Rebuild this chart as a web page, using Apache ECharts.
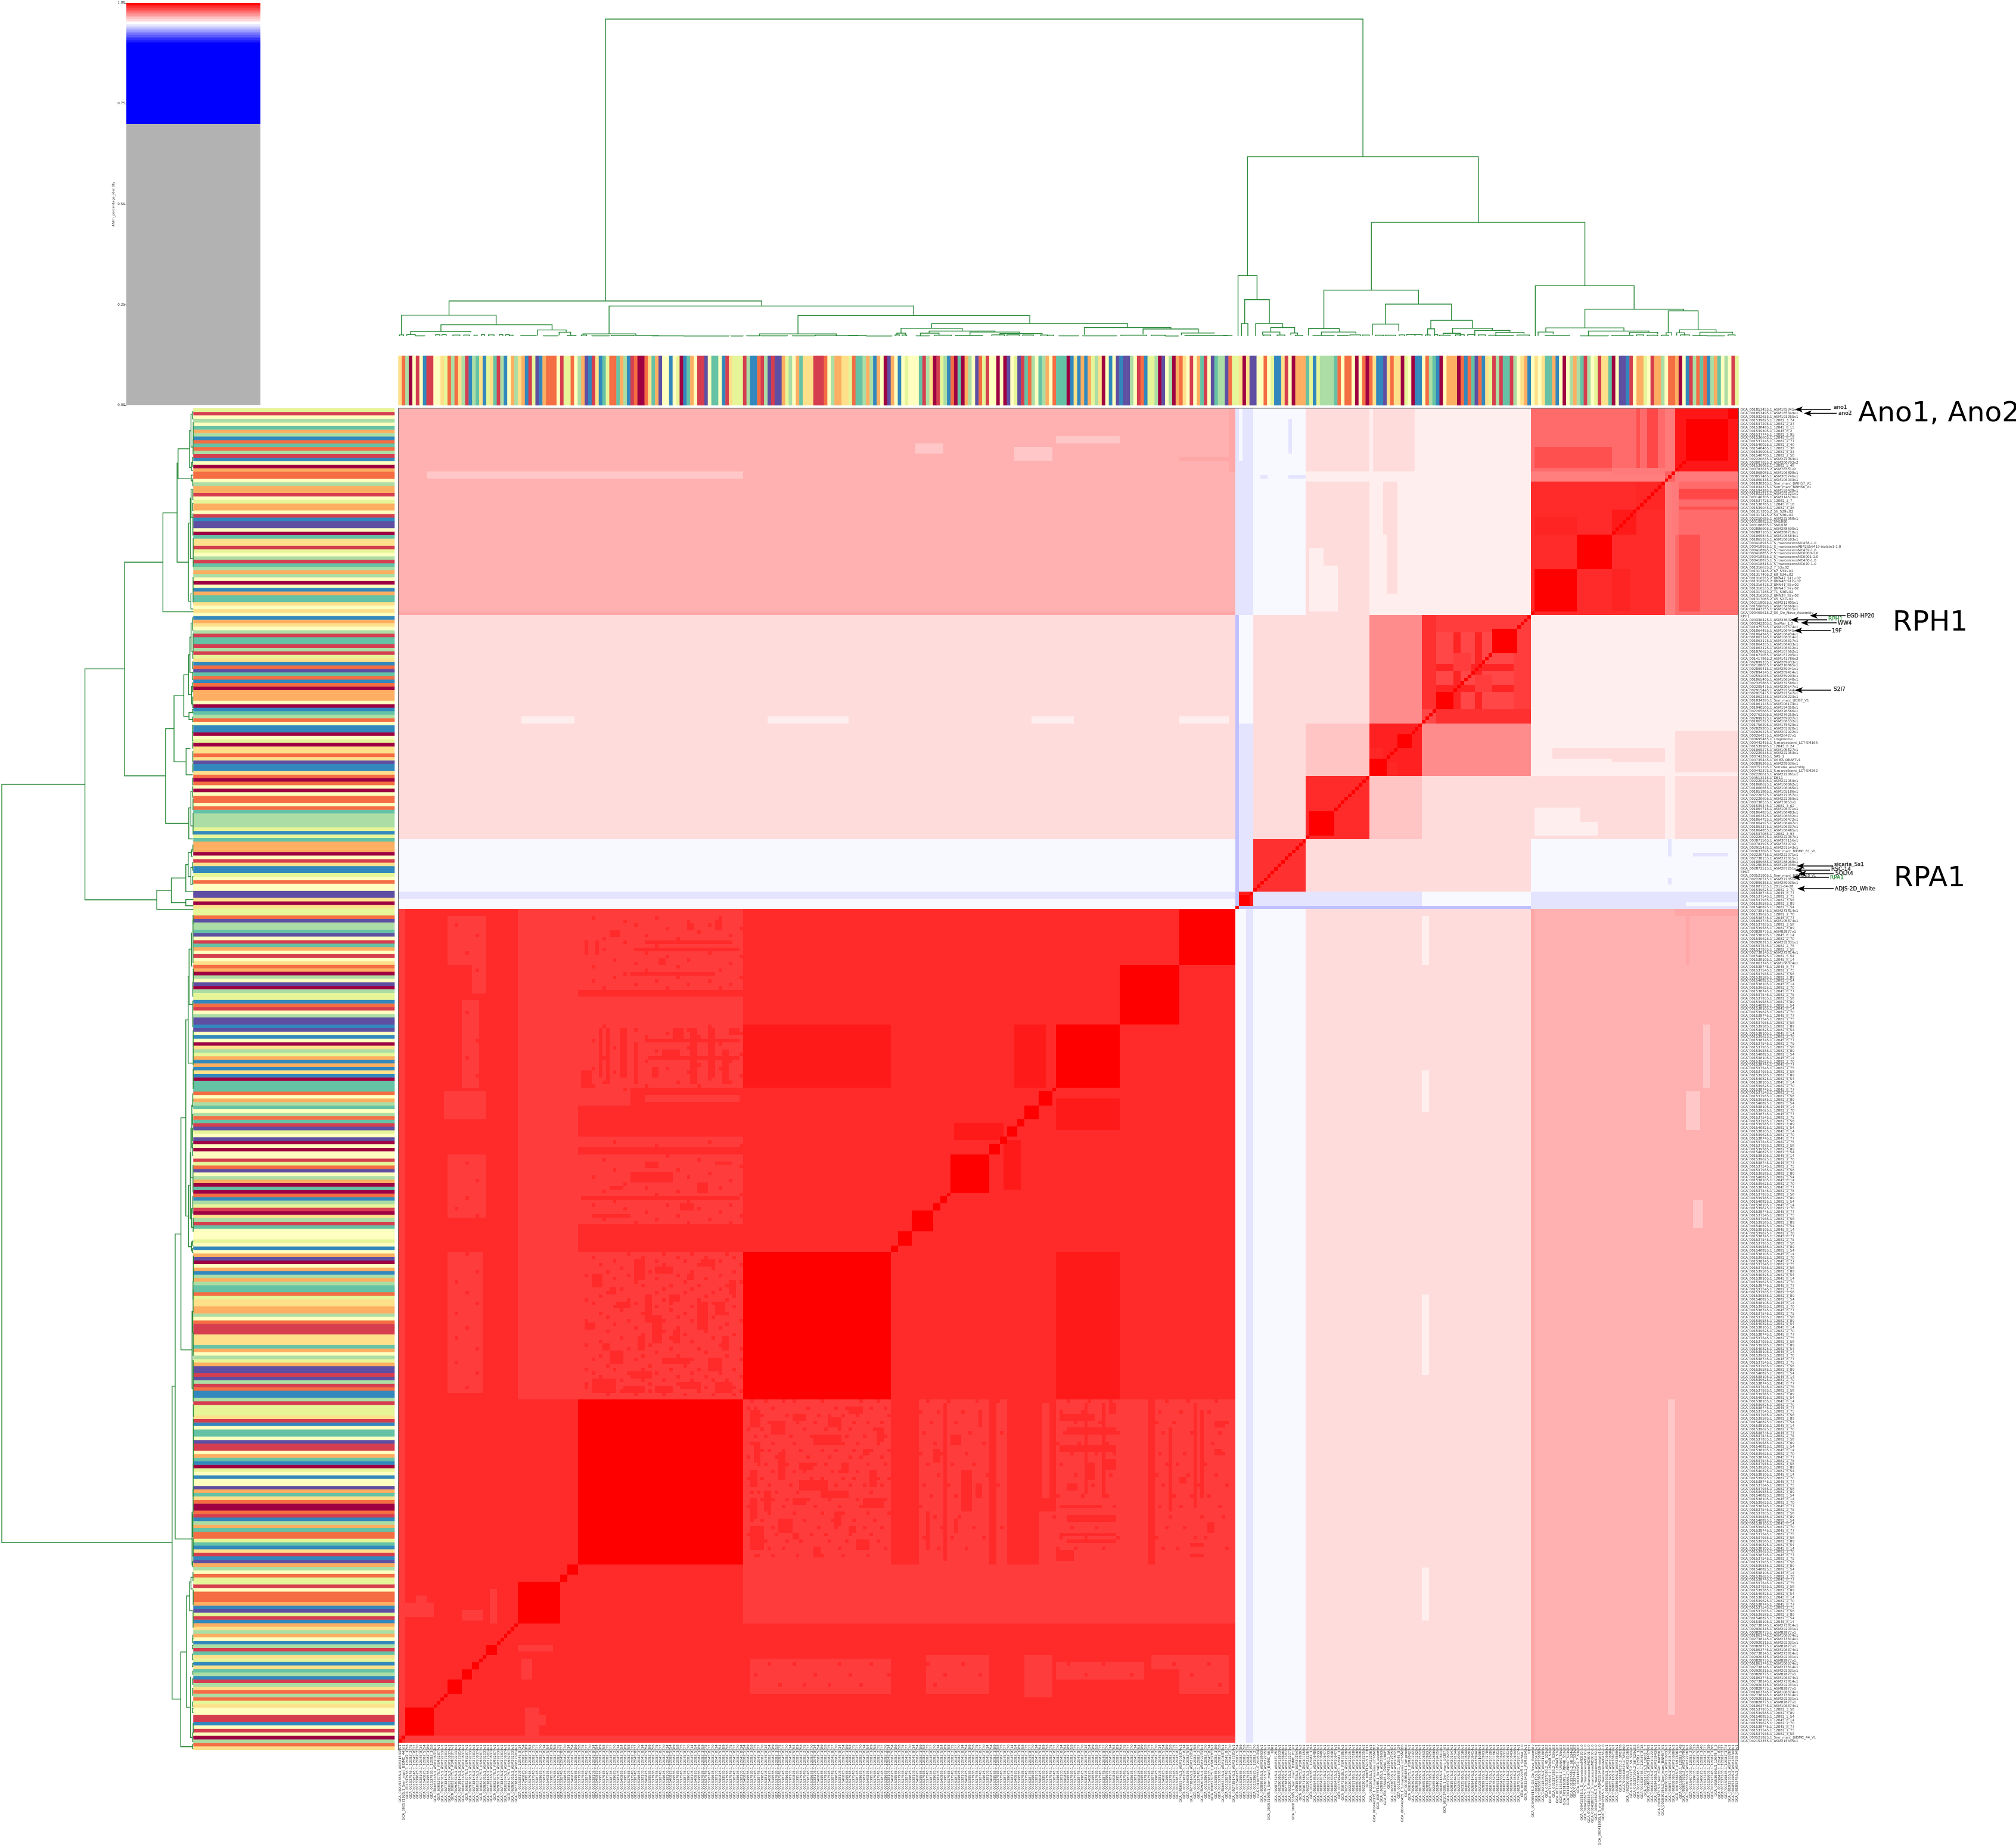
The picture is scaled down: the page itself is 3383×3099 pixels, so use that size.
<!DOCTYPE html>
<html><head><meta charset="utf-8"><title>ANI clustermap</title>
<script src="https://cdn.jsdelivr.net/npm/echarts@6/dist/echarts.min.js"></script>
<style>html,body{margin:0;background:#fff}#c{width:3383px;height:3099px}</style></head>
<body><div id="c"></div><script>
// ---- genome labels: index 380 is the top row / right column, index 0 the bottom row / left column
const topDownLabels = ["GCA_001853455.1_ASM185345v1","GCA_001853495.1_ASM185349v1","GCA_001932655.1_ASM193265v1","GCA_001539825.1_12082_3_74","GCA_001537205.1_12082_2_37","GCA_001538485.1_12045_8_15","GCA_001539305.1_12045_8_2","GCA_001537745.1_12082_3_95","GCA_001536605.1_12045_8_19","GCA_001537245.1_12082_2_77","GCA_001540025.1_12082_3_40","GCA_001540465.1_12082_5_38","GCA_001539005.1_12082_5_33","GCA_001540705.1_12082_2_50","GCA_002220635.1_ASM222063v1","GCA_002007925.2_ASM200792v2","GCA_001539065.1_12082_5_48","GCA_000783615.2_ASM78361v2","GCA_001068085.1_ASM106808v1","GCA_003057465.1_ASM305746v1","GCA_001060335.1_ASM106033v1","GCA_001030265.1_Serr_marc_BWH57_V1","GCA_001034375.1_Serr_marc_BWH56_V1","GCA_001594385.1_ASM159438v1","GCA_001022215.1_ASM102221v1","GCA_003146705.1_ASM314670v1","GCA_001537725.1_12082_3_7","GCA_001538785.1_12045_8_18","GCA_001539045.1_12082_3_36","GCA_001317205.2_56_S29v.02","GCA_001317425.2_59_S30v.02","GCA_002250685.1_ASM225068v1","GCA_900108825.1_SM1890","GCA_900108835.1_SM1978","GCA_002886905.1_ASM288690v1","GCA_002887105.1_ASM288710v1","GCA_001065845.1_ASM106584v1","GCA_001065935.1_ASM106593v1","GCA_000418915.1_S_marcescensMC458-1.0","GCA_000418935.1_S_marcescensAB42556419-isolate1-1.0","GCA_000418895.1_S_marcescensMC459-1.0","GCA_000418855.2_S_marcescensMC6000-1.0","GCA_000418835.1_S_marcescensMC6001-1.0","GCA_000418875.1_S_marcescensMC460-1.0","GCA_000418815.1_S_marcescensMC620-1.0","GCA_001316635.2_7_S3v.02","GCA_001317445.2_67_S33v.02","GCA_001317495.2_68_S34v.02","GCA_001316555.2_UNN47_S11v.02","GCA_001316595.2_UNN48_S12v.02","GCA_001316425.2_UNN41_S5v.02","GCA_001316535.2_UNN43_S7v.02","GCA_001317285.2_71_S36v.02","GCA_001316505.2_UNN38_S2v.02","GCA_001317085.2_45_S21v.02","GCA_002118055.1_ASM211805v1","GCA_001566695.1_ASM156669v1","GCA_001643155.1_ASM164315v1","GCA_000465615.2_GS_De_Novo_Assembly","RPH1","GCA_000336425.1_ASM33642v1","GCA_000342205.1_SerMar_1.0","GCA_001975745.1_ASM197574v1","GCA_001064455.1_ASM106445v1","GCA_001064345.1_ASM106434v1","GCA_001063145.1_ASM106314v1","GCA_001063175.1_ASM106317v1","GCA_001064335.1_ASM106433v1","GCA_001063125.1_ASM106312v1","GCA_001076625.1_ASM107662v1","GCA_001672055.1_ASM167205v1","GCA_001417865.2_ASM141786v2","GCA_002899335.1_ASM289933v1","GCA_002108655.1_ASM210865v1","GCA_002899415.1_ASM289941v1","GCA_002094145.1_ASM209414v1","GCA_002592035.1_ASM259203v1","GCA_001065405.1_ASM106540v1","GCA_002325865.1_ASM232586v1","GCA_002205475.1_ASM220547v1","GCA_002915445.1_ASM291544v1","GCA_002915475.1_ASM291547v1","GCA_001062235.1_ASM106223v1","GCA_001034395.1_Serr_marc_UCI87_V1","GCA_001061145.1_ASM106114v1","GCA_001940505.1_ASM194050v1","GCA_002265665.1_ASM226566v1","GCA_002762595.1_ASM276259v1","GCA_002899375.1_ASM289937v1","GCA_001065325.1_ASM106532v1","GCA_001756295.1_ASM175629v1","GCA_002029205.1_ASM202920v1","GCA_002029225.1_ASM202922v1","GCA_000264275.1_ASM26427v1","GCA_000695485.1_smgenome","GCA_000442455.1_S.marcescens_LCT-SM166","GCA_001539985.1_12045_8_24","GCA_001065275.1_ASM106527v1","GCA_002220535.1_ASM222053v1","GCA_000743395.1_SAS_1","GCA_000735445.1_GSMA_DRAFTv1","GCA_002899365.1_ASM289936v1","GCA_000751195.1_Serratia_assembly","GCA_000442375.1_S.marcescens_LCT-SM262","GCA_002220615.1_ASM222061v1","GCA_000513215.1_DB11","GCA_002220595.1_ASM222059v1","GCA_001060625.1_ASM106062v1","GCA_001060655.1_ASM106065v1","GCA_001051865.1_ASM105186v1","GCA_002220575.1_ASM222057v1","GCA_002220695.1_ASM222069v1","GCA_000738535.1_ASM73853v1","GCA_001539445.1_12082_3_62","GCA_001064715.1_ASM106471v1","GCA_001064835.1_ASM106483v1","GCA_001063325.1_ASM106332v1","GCA_001064725.1_ASM106472v1","GCA_001064975.1_ASM106497v1","GCA_001063375.1_ASM106337v1","GCA_001064855.1_ASM106485v1","GCA_001537085.1_12082_3_93","GCA_002220675.1_ASM222067v1","GCA_003071565.1_ASM307156v1","GCA_000783975.2_ASM78397v2","GCA_002915435.1_ASM291543v1","GCA_000633695.1_Serr_marc_BIDMC_81_V1","GCA_002220715.1_ASM222071v1","GCA_002738155.1_ASM273815v1","GCA_001889685.1_ASM188968v1","GCA_001280365.1_ASM128036v1","GCA_002872515.1_ASM287251v1","RPA1","GCA_000521905.1_Serr_marc_BIDMC_50_V1","GCA_002220515.1_ASM222051v1","GCA_002899355.1_ASM289935v1","GCA_001007555.1_2015-04-28"];
const bottomLabels = ["GCA_002153355.1_ASM215335v1","GCA_000521925.1_Serr_marc_BIDMC_44_V1"];
// The remaining labels are too small to read in the reference; these stand in for them with the same shape.
const shortStandIns = ["GCA_001540825.1_12082_5_54","GCA_001539585.1_12082_3_89","GCA_001537935.1_12082_3_58","GCA_001537545.1_12082_2_75","GCA_001538745.1_12045_8_77","GCA_001539625.1_12082_2_70","GCA_001538105.1_12045_8_14"];
const longStandIns = ["GCA_002920315.1_ASM292031v1","GCA_002738145.1_ASM273814v1","GCA_001063745.1_ASM106374v1","GCA_000828775.1_ASM82877v1"];

// ---- ribbon colour levels, left to right (a..k = Spectral levels)
const ribbonLevels = "echafbfjbbffegchcehbjhiejgeibhjfdhedjbgkjdcccfbggcfhdkjbejigccidhjbcaaceidkffjfgajidfbbkfiifjb"
 + "egggbhjjcbhkbkkdghfdieeebbbcfhddeegciihdhjdfakdfjfgfffibheabghjcaiadhfkcgbffafakfgkbichfihdfcii"
 + "iajejdjdgheafjfkjkkhfbcjgghakfhadcefbfdibfkihhkcggeaekkffcfgjjebfadddigjghhhhicfccfafcacejjkecee"
 + "agfajjfchijafdddacjcikcjegbhbiibhfedjfefeiidjfafhdhibhfgbeeiafkkjbfddgfbddhfccdafjbhcicjhdifhfbg";
const spectral = ["#9e0142","#d53e4f","#f46d43","#fdae61","#fee08b","#ffffbf","#e6f598","#abdda4","#66c2a5","#3288bd","#5e4fa2"];

// ---- identity matrix, read as blocks: groups first, then symmetric patches
const groupBounds = [0,238,239,243,258,276,291,322,360,363,381];
const groupValues = [
 [.9918,.9486,.9447,.9486,.9569,.9569,.9569,.9655,.9655,.9655],
 [.9486,1,.9376,.9376,.9376,.9376,.9376,.9447,.9447,.9447],
 [.9447,.9376,.9949,.9447,.9447,.9447,.9486,.9447,.9447,.9447],
 [.9486,.9376,.9447,.9905,.9569,.9569,.9569,.9486,.9486,.9486],
 [.9569,.9376,.9447,.9569,.9918,.9616,.9569,.9569,.9533,.9569],
 [.9569,.9376,.9447,.9569,.9616,.9936,.9725,.9533,.9533,.9569],
 [.9569,.9376,.9486,.9569,.9569,.9725,.9860,.9533,.9533,.9533],
 [.9655,.9447,.9447,.9486,.9569,.9533,.9533,.9918,.9750,.9812],
 [.9655,.9447,.9447,.9486,.9533,.9533,.9533,.9750,.9812,.9760],
 [.9655,.9447,.9447,.9486,.9569,.9569,.9533,.9812,.9760,.9955]];
// [i0,i1,j0,j1,value] in cell indices, painted in order on both triangles
const lightA = .9882, darkA = .9949, baseA = .9918;
const lightPatches = [
 [0,2,2,238,lightA],[34,51,98,238,lightA],
 [51,98,98,140,lightA],[51,98,148,168,lightA],[51,98,170,173,lightA],[51,66,182,187,lightA],[70,97,183,185,lightA],
 [51,98,187,213,lightA],[51,98,215,238,lightA],
 [14,25,222,236,lightA],[21,25,214,222,lightA],[18,23,187,212,lightA],[13,25,178,186,lightA],[14,25,150,168,lightA],[14,24,100,140,lightA],
 [0,10,36,40,lightA],[35,38,18,24,lightA],[26,28,34,44,lightA],[5,8,36,42,lightA],
 [98,140,187,205,darkA],[178,184,187,205,darkA],[187,205,175,181,darkA],[158,172,172,177,darkA]];
const holes = [ // cells of the textured light zones that stay at the base level
 [67,70,132,138],[73,78,134,136],[86,90,136,138],[60,62,128,130],[70,72,120,128],[72,75,114,122],[77,80,126,128],[85,88,118,126],[90,93,122,126],
 [53,56,118,120],[60,64,108,112],[66,72,104,106],[75,83,108,110],[88,92,106,110],[55,62,100,104],[64,70,100,102],[73,78,100,102],[80,86,101,103],
 [90,95,100,103],[58,60,112,114],[94,96,128,132],[82,84,132,134],[68,70,112,116],[78,80,114,118],[92,94,112,116],[55,58,130,134],[62,66,124,126],
 [57,58,190,204],[59,60,188,204],[63,65,190,204],[67,68,188,200],[75,80,195,198],[83,85,188,204],[88,90,190,204],[71,97,195,196],[70,97,200,201],
 [92,94,188,198],[52,55,187,192],[72,74,190,193],[78,81,201,204],[94,97,202,204],
 [52,97,155,156],[55,66,150,151],[66,78,160,163],[90,95,165,166],[60,64,158,159],[80,84,152,154],[70,74,164,166],[85,88,157,160],
 [53,54,225,229],[56,57,225,229],[67,97,226,227],[70,95,228,229],[66,90,219,220],[74,76,222,224],[82,84,232,234],[90,92,232,235],[60,63,230,232]];
const speckles = [ // [row, columns...]: single base-level cells scattered through the light zones
 [97,100,104,109,112,120,131,136,150,156,164,170,190,196,202,218,224,232],[95,99,101,106,116,124,127,134,138],[94,148,153,160,168,188,194,200,216,222,230],
 [93,102,103,110,119,122,126,130,139],[91,100,105,108,113,118,129,133,137,151,158,165,186,192,199,215,220,228,235],[89,99,103,107,115,121,125,128,135],
 [88,149,155,162,171,189,197,204,217,225,233],[87,101,104,111,117,123,127,132,138],[85,100,102,106,112,119,126,130,136,152,159,166,187,193,201,219,226,231],
 [83,103,105,109,114,120,124,129,134,139],[82,148,154,161,169,191,198,203,216,223,234],[81,99,101,107,116,122,128,131,137],[79,102,104,110,118,121,127,133,138,150,157,163,188,195,200,218,221,229],
 [77,100,106,112,115,123,125,130,135],[76,153,160,167,186,192,202,215,224,232],[75,99,103,108,117,120,126,129,136,139],[73,101,105,111,119,124,128,132,137,149,156,164,170,190,197,217,227,235],
 [71,100,102,107,113,121,127,134],[70,151,158,165,187,194,201,220,225,230],[69,103,106,110,116,122,130,138],[67,99,104,109,118,125,131,136,148,155,162,189,196,203,216,222,233],
 [65,101,105,112,120,126,133,139],[64,152,159,168,186,193,199,219,228,234],[63,100,103,108,115,123,129,135],[61,102,106,111,119,124,132,137,150,154,163,171,191,198,218,223,231],
 [59,99,101,107,117,121,128,134],[58,149,157,166,188,195,204,215,226,229],[57,100,104,110,114,122,127,136],[55,103,105,109,118,125,130,138,153,161,169,187,192,200,217,221,235],[53,101,102,106,113,120,126,133],
 [22,105,112,125,134,150,160,190,200,220,230],[19,101,118,128,139,155,165,195,208,225],[16,108,115,122,131,152,168,188,203,217,233]];
const clusterBlocks = [
 [2,10],[14,18],[18,21],[21,23],[25,28],[34,46],[46,48],[48,51],[51,98],[98,140],[140,142],[142,146],[146,152],[152,154],[154,156],[157,168],[168,171],[171,173],
 [173,176],[176,178],[178,182],[182,186],[187,205],[205,222],[222,238],[239,242],[259,266],[276,281],[284,288],[295,300],[311,318],[323,335],[335,345],[366,378],[378,381]];
const sidePatches = [
 [361,363,8,98,.9610],[322,323,0,238,.9675],[236,238,363,381,.9675],[366,367,222,238,.9675],[147,155,368,371,.9610],[175,186,366,370,.9610],[187,205,371,373,.9610],
 [0,238,239,241,.9486],[222,236,291,293,.9533],[180,192,291,293,.9533],[105,128,291,293,.9533],[35,50,291,293,.9533],
 [363,381,289,291,.9533],[363,381,276,277,.9533],[345,360,280,284,.9569],[328,360,281,284,.9569],[323,336,259,267,.9533],[336,341,259,263,.9533],
 [253,254,368,378,.9447],[245,247,361,362,.9447],[253,258,361,362,.9447],[238,243,364,381,.9447],[239,240,366,381,.9486],
 [363,381,322,360,.9790],[363,381,355,358,.9860],[363,381,352,353,.9843],[323,345,364,370,.9843],[345,352,345,352,.9949],[352,360,352,360,.9925],[323,335,345,350,.9930],
 [345,360,362,364,.9760],[291,295,295,322,.9905],[300,302,295,322,.9930],[306,308,295,322,.9930],[317,322,295,322,.9880],[300,305,306,311,.9880],
 [282,288,276,291,.9936],[280,284,276,280,.9925]];

// ---- dendrogram links, shared by both axes: [leftPos, leftHeight, top, rightPos, rightHeight]; height in % of the root
const mainLinks = [
 [58.9,11.1,100,274.2,56.6],[14.4,6.6,11.1,103.3,9.5],[.9,.4,6.6,27.8,3.6],[12.1,1.5,3.6,43.7,1.95],[3.5,.5,1.5,20.6,1.2],[39.5,.2,1.95,47.7,1.25],[45.7,.3,1.25,49,.3],
 [59.9,.7,9.5,146.5,6.5],[52.5,.2,.7,67.5,.25],[113.6,.7,6.5,179.5,3.95],[102.7,.15,.7,124.5,.2],[151.6,2.5,3.95,207.3,2.7],[142.9,.95,2.5,160.3,1.6],[141.7,.3,.95,144.2,.3],
 [150.9,.95,1.6,169.6,1.3],[148.4,.1,.95,153.7,.3],[162.5,.2,1.3,176.6,.8],[171,.3,.8,183,.4],[195,.4,2.7,219.6,2.25],[211.7,.5,2.25,227.4,1],[222.6,.3,1,232,.9],
 [241.4,19.1,56.6,307,35.9],[276.6,14.5,35.9,337.3,15.9],[238.7,0,19.1,244.1,11.5],[240.6,3.95,11.5,247.6,3.95],[239.7,0,3.95,241.5,0],[243.7,0,3.95,251.4,2.7],[248,1.3,2.7,254.8,1],
 [245.7,.3,1.3,250.6,.3],[253.7,.3,1,255.6,.3],[263.1,2.4,14.5,290,10.1],[258.7,.2,2.4,267.5,1.3],[262.4,.3,1.3,272.2,.8],[280.6,3.8,10.1,299.4,5],[276.9,.3,3.8,284.4,1.6],
 [293.5,2.3,5,305.3,2.5],[292.6,.2,2.3,294.6,.2],[299.7,.9,2.5,311,1.8],[297,.2,.9,302,.3],[306,.3,1.8,316,1.2],[312,.2,1.2,320,.8],
 [323.2,0,15.9,351.3,8.5],[337.3,2.6,8.5,365.4,8],[326.2,1.3,2.6,348.4,1.6],[324,.1,1.3,328.3,.7],[338.3,.2,1.6,355.5,1.2],[350,.3,1.2,358,.6],
 [361,1.1,8,369.5,2],[360.4,.2,1.1,362,.2],[364.2,1.05,2,374.6,1.25],[363.4,.2,1.05,365.6,.2],[370,.2,1.25,379.3,.8]];
const tinyLinks = [ // [leftPos, rightPos, height]
 [.3,1.5,.4],[2.4,4.8,.5],[4.8,7.5,.1],[10.6,11.8,.45],[12.4,13.6,.5],[15.5,17.5,.35],[18.6,20.2,.35],[21.5,22.4,.3],[23.6,24.5,.5],[25.6,27.2,.4],[28.7,29.7,.5],[30.5,31.5,.5],[31.6,32.6,.3],
 [34.8,39.2,.15],[41.2,45.4,.1],[48,50.5,.2],[52,53.5,.35],[55,60,.1],[60.5,67,.25],[67.5,74,.15],[72,81,.1],[81,94,.06],[94.5,98,.05],[99,102.7,.1],[103,110.6,.1],[112,118.5,.1],
 [118.5,124.5,.3],[124.5,130.6,.15],[128,133,.2],[133,140.3,.05],[141.2,142.4,.4],[143.2,144.5,.35],[147.2,151,.1],[152.4,157.2,.3],[158.4,166,.2],[168.7,172.3,.4],[173,176.5,.4],
 [177.5,180.5,.35],[182.6,184.5,.35],[184.5,186.3,.3],[187.8,189.2,.1],[189.2,193.4,.1],[194.5,204.2,.1],[205.4,212.7,.3],[214,218,.3],[218,221.8,.05],[223.6,235.6,.2],[234.5,237,.15],
 [246,248,.35],[249.8,252,.35],[255,257,.25],[260,266,.15],[267,270,.2],[270.5,273.5,.4],[274,276,.35],[277.7,280,.3],[280.5,283.5,.3],[284.5,286,.4],[286.5,289,.5],[289,291,.5],[292,293.3,.4],
 [294.5,295.5,.5],[296,299,.3],[300.5,301.8,.4],[302,303,.45],[304,306,.5],[307,309,.4],[310,312,.3],[312,317,.15],[318,321.5,.35],[326,333,.15],[336,344,.1],[345,351,.25],[352,354,.4],
 [355,358,.3],[359,361,.3],[364.5,367,.4],[368,372,.15],[372,377,.1],[378,380,.4]];

// ---- annotation text
const bigNotes = [["Ano1, Ano2",3118,708],["RPH1",3176,1059],["RPA1",3178,1488]];
const arrowNotes = [ // text, colour, textX, textY, tipX, tipY, tailX
 ["ano1","#111",3077,684,3012,687,3072],["ano2","#111",3085,694,3027,693.5,3082],["EGD-HP20","#111",3099,1034,3037,1033,3097],["RPH1","#2a8a3a",3068,1039,3005,1040,3066],
 ["WW4","#111",3084,1046,3022,1045,3082],["19F","#111",3074,1059,3011,1058,3072],["S2I7","#111",3077,1157,3012,1158,3073],["sicaria_Ss1","#111",3078,1451,3015,1453,3076],
 ["RSC-14","#111",3073,1459,3012,1460,3071],["SOLR4","#111",3080,1466,3018,1466,3077],["RPA1","#2a8a3a",3071,1473,3008,1472,3069],["ADJS-2D_White","#111",3079,1492,3016,1491,3077]];

// ---- build tables
const N = ribbonLevels.length;
const labels = new Array(N);
topDownLabels.forEach((s,k)=>{labels[N-1-k]=s;});
bottomLabels.forEach((s,k)=>{labels[k]=s;});
for(let i=0;i<N;i++){ if(!labels[i]){ const isLong=(i>=10&&i<34)||(i>=222&&i<238&&i%3===0);
  labels[i]= isLong? longStandIns[i%longStandIns.length] : shortStandIns[i%shortStandIns.length]; } }
const M = Array.from({length:N},()=>new Float32Array(N));
function paint(i0,i1,j0,j1,v){ for(let i=i0;i<i1;i++)for(let j=j0;j<j1;j++){M[i][j]=v;M[j][i]=v;} }
for(let a=0;a<10;a++)for(let b=0;b<10;b++)paint(groupBounds[a],groupBounds[a+1],groupBounds[b],groupBounds[b+1],groupValues[a][b]);
lightPatches.forEach(p=>paint(p[0],p[1],p[2],p[3],p[4]));
holes.forEach(p=>paint(p[0],p[1],p[2],p[3],baseA));
speckles.forEach(s=>{for(let k=1;k<s.length;k++)paint(s[k],s[k]+1,s[0],s[0]+1,baseA);});
sidePatches.forEach(p=>paint(p[0],p[1],p[2],p[3],p[4]));
clusterBlocks.forEach(c=>paint(c[0],c[1],c[0],c[1],1));
for(let i=0;i<N;i++)M[i][i]=1;
// runs of equal cells along a row: [firstColumn, lastColumn, row, value]
const heatRuns=[];
for(let j=0;j<N;j++){ let s=0; for(let i=1;i<=N;i++){ if(i===N||M[i][j]!==M[s][j]){heatRuns.push([s,i-1,j,M[s][j]]);s=i;} } }
const levelIndex = Array.from(ribbonLevels,c=>c.charCodeAt(0)-97);
const topRibbon = levelIndex.map((v,i)=>[i,0,v]);
const leftRibbon = levelIndex.map((v,i)=>[0,i,v]);
const links = mainLinks.concat(tinyLinks.map(t=>[t[0],0,t[2],t[1],0]));

// ---- colour ramp shared by the heat map and its colour bar
function rampColor(v){ if(v<.7) return "#b2b2b2"; const p=Math.min(1,Math.max(0,v));
  if(p<.9) return "#0000ff";
  if(p<.95){const g=Math.round(255*(p-.9)/.05);return `rgb(${g},${g},255)`;}
  const g=Math.round(255*(1-(p-.95)/.05));return `rgb(255,${g},${g})`; }
const barLevels=[]; for(let k=0;k<250;k++)barLevels.push([k/250,(k+1)/250]);

const GREEN="#2a8a3a";
function linkPoly(flip){ return function(params,api){
  const x1=api.value(0),h1=api.value(1),t=api.value(2),x2=api.value(3),h2=api.value(4);
  const P=(x,h)=>api.coord(flip?[h,x]:[x,h]);
  return {type:'polyline',shape:{points:[P(x1,h1),P(x1,t),P(x2,t),P(x2,h2)]},style:{stroke:GREEN,lineWidth:1.4,fill:null},silent:true};
};}
const HL=668.5,HW=2249,HT=685,HH=2251;
const labelStyle={fontFamily:'DejaVu Sans',fontSize:5.7,color:'#333'};
const graphic=[{type:'rect',z:50,silent:true,shape:{x:HL,y:HT,width:HW,height:HH},style:{fill:null,stroke:'#666',lineWidth:1.2}}];
bigNotes.forEach(n=>graphic.push({type:'text',z:60,silent:true,style:{text:n[0],x:n[1],y:n[2],textVerticalAlign:'bottom',font:'47px "DejaVu Sans"',fill:'#000'},y:10}));
arrowNotes.forEach(a=>{const [t,col,tx,ty,px,py,qx]=a;
  graphic.push({type:'line',z:60,silent:true,shape:{x1:px+6,y1:py,x2:qx,y2:py},style:{stroke:'#000',lineWidth:1.7}});
  graphic.push({type:'polygon',z:61,silent:true,shape:{points:[[px,py],[px+13,py-5],[px+10,py],[px+13,py+5]]},style:{fill:'#000'}});
  graphic.push({type:'text',z:60,silent:true,style:{text:t,x:tx,y:ty,textVerticalAlign:'middle',font:'9px "DejaVu Sans"',fill:col,stroke:col,lineWidth:.25}});
});

const chart=echarts.init(document.getElementById('c'),null,{renderer:'canvas'});
chart.setOption({
 animation:false,backgroundColor:'#fff',tooltip:{show:false},graphic,
 grid:[
  {left:HL,top:HT,width:HW,height:HH},              // 0 heat map
  {left:HL,top:597,width:HW,height:83},             // 1 top ribbon
  {left:324.5,top:HT,width:337.5,height:HH},        // 2 left ribbon
  {left:HL,top:32,width:HW,height:532},             // 3 top dendrogram
  {left:3,top:HT,width:321.5,height:HH},            // 4 left dendrogram
  {left:212,top:5,width:225,height:675}             // 5 colour bar
 ],
 xAxis:[
  {gridIndex:0,type:'category',data:labels,position:'bottom',axisLine:{show:false},axisTick:{alignWithLabel:true,length:2,lineStyle:{color:'#444',width:.6},interval:0},
   axisLabel:{...labelStyle,interval:0,rotate:90,margin:3,hideOverlap:false},splitLine:{show:false}},
  {gridIndex:1,type:'category',data:labels,show:false},
  {gridIndex:2,type:'category',data:['colors'],show:false},
  {gridIndex:3,type:'value',min:0,max:N,show:false},
  {gridIndex:4,type:'value',min:0,max:100,inverse:true,show:false},
  {gridIndex:5,type:'value',min:0,max:1,show:false}
 ],
 yAxis:[
  {gridIndex:0,type:'category',data:labels,position:'right',axisLine:{show:false},axisTick:{alignWithLabel:true,length:2,lineStyle:{color:'#444',width:.6},interval:0},
   axisLabel:{...labelStyle,interval:0,margin:3,hideOverlap:false},splitLine:{show:false}},
  {gridIndex:1,type:'category',data:['colors'],show:false},
  {gridIndex:2,type:'category',data:labels,show:false},
  {gridIndex:3,type:'value',min:0,max:100,show:false},
  {gridIndex:4,type:'value',min:0,max:N,show:false},
  {gridIndex:5,type:'value',min:0,max:1,interval:.25,position:'left',splitLine:{show:false},axisLine:{show:false},
   axisTick:{length:4,lineStyle:{color:'#333',width:.7}},axisLabel:{...labelStyle,margin:2,formatter:v=>v.toFixed(2)},
   name:'ANIm_percentage_identity',nameLocation:'middle',nameGap:16,nameRotate:90,nameTextStyle:labelStyle}
 ],
 visualMap:[
  {type:'continuous',show:false,seriesIndex:[1,2],dimension:2,min:0,max:10,inRange:{color:spectral}}
 ],
 series:[
  {type:'custom',xAxisIndex:0,yAxisIndex:0,data:heatRuns,silent:true,clip:false,progressive:0,
   dimensions:[{name:'first',type:'number'},{name:'last',type:'number'},{name:'row',type:'number'},{name:'identity',type:'number'}],
   encode:{x:0,y:2},
   renderItem:(p,api)=>{const a=api.coord([api.value(0),api.value(2)]),b=api.coord([api.value(1),api.value(2)]),s=api.size([1,1]);
     const x0=Math.round(a[0]-s[0]/2),x1=Math.round(b[0]+s[0]/2),y0=Math.round(a[1]-s[1]/2),y1=Math.round(a[1]+s[1]/2);
     return {type:'rect',shape:{x:x0,y:y0,width:x1-x0,height:y1-y0},style:{fill:rampColor(api.value(3))},silent:true};}},
  {type:'heatmap',xAxisIndex:1,yAxisIndex:1,data:topRibbon,silent:true,progressive:0,emphasis:{disabled:true}},
  {type:'heatmap',xAxisIndex:2,yAxisIndex:2,data:leftRibbon,silent:true,progressive:0,emphasis:{disabled:true}},
  {type:'custom',xAxisIndex:3,yAxisIndex:3,data:links,renderItem:linkPoly(false),silent:true,clip:false,encode:{x:0,y:2}},
  {type:'custom',xAxisIndex:4,yAxisIndex:4,data:links,renderItem:linkPoly(true),silent:true,clip:false,encode:{x:2,y:0}},
  {type:'custom',xAxisIndex:5,yAxisIndex:5,data:barLevels,silent:true,encode:{y:[0,1]},clip:false,
   renderItem:(p,api)=>{const a=api.coord([0,api.value(0)]),b=api.coord([1,api.value(1)]);
     const top=Math.round(b[1]),bot=Math.round(a[1]);
     return {type:'rect',shape:{x:Math.round(a[0]),y:top,width:Math.round(b[0]-a[0]),height:bot-top},style:{fill:rampColor((api.value(0)+api.value(1))/2)},silent:true};}}
 ]
});
</script></body></html>
